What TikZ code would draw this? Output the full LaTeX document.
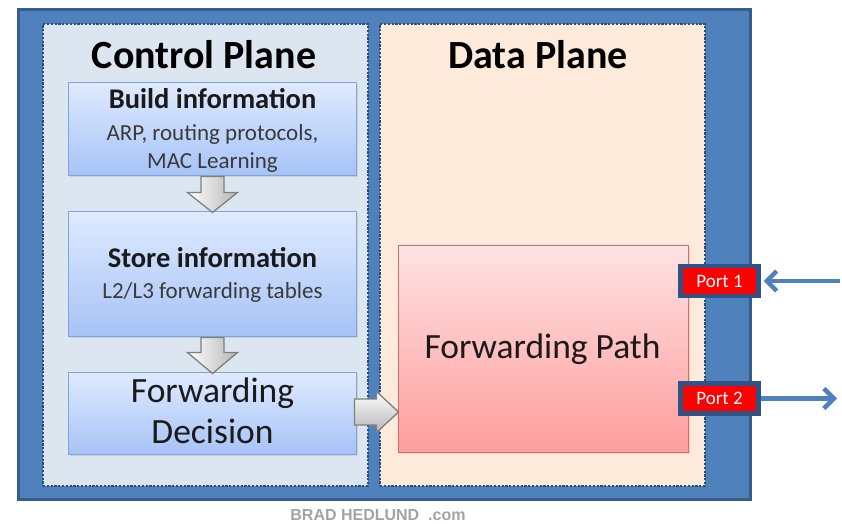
\documentclass[tikz,border=0pt]{standalone}
\usepackage{fontspec}
\setmainfont{Carlito}
\newfontfamily\footfont{Liberation Sans}
\usetikzlibrary{calc,arrows.meta,shadows}
\definecolor{outerblue}{HTML}{4F81BD}
\definecolor{outeredge}{HTML}{385D8A}
\definecolor{dotblue}{HTML}{2B4C74}
\definecolor{ctrlfill}{HTML}{DCE6F1}
\definecolor{datafill}{HTML}{FDEADA}
\definecolor{boxtop}{HTML}{DFEAFF}
\definecolor{boxbot}{HTML}{A6C3F6}
\definecolor{boxedge}{HTML}{7FA4DA}
\definecolor{pathtop}{HTML}{FFE3E3}
\definecolor{pathbot}{HTML}{FF9C9C}
\definecolor{pathedge}{HTML}{D46A6A}
\definecolor{arrowgray}{HTML}{B5B5B5}
\definecolor{arrowedge}{HTML}{7F7F7F}
\definecolor{portedge}{HTML}{2E5486}
\definecolor{footgray}{HTML}{A3A3A3}
\definecolor{textdark}{HTML}{1A1A1A}
\definecolor{textgray}{HTML}{3A3A3A}
\begin{document}
\begin{tikzpicture}[x=1pt,y=-1pt,
  outerbox/.style={draw=outeredge, line width=3pt, fill=outerblue, inner sep=0, outer sep=0,
    minimum width=732pt, minimum height=490pt,
    drop shadow={opacity=0.25, shadow xshift=1.5pt, shadow yshift=-1.5pt}},
  plane/.style={draw=dotblue, line width=2.8pt, dash pattern=on 2.2pt off 1.6pt, inner sep=0, outer sep=0,
    minimum width=325pt, minimum height=462pt},
  infobox/.style={draw=boxedge, line width=1.6pt, top color=boxtop, bottom color=boxbot,
    inner sep=0, outer sep=0, minimum width=288pt,
    drop shadow={opacity=0.2, shadow xshift=1pt, shadow yshift=-1.5pt}},
  pathbox/.style={draw=pathedge, line width=1.6pt, top color=pathtop, bottom color=pathbot,
    inner sep=0, outer sep=0, minimum width=290pt, minimum height=207pt,
    drop shadow={opacity=0.2, shadow xshift=1pt, shadow yshift=-1.5pt}},
  portbox/.style={draw=portedge, fill=red, line width=4.5pt, text=white, inner sep=0, outer sep=0,
    font=\fontsize{19}{21}\selectfont, minimum width=78pt, minimum height=30pt},
  blockV/.style={draw=arrowedge, line width=1.3pt, left color=white, right color=arrowgray, line join=miter},
  blockH/.style={draw=arrowedge, line width=1.3pt, top color=white, bottom color=arrowgray, line join=miter},
  bluearrow/.style={draw=outerblue, line width=4.5pt, -{Straight Barb[length=10pt,width=20pt]}},
  titletext/.style={font=\fontsize{40}{44}\selectfont\bfseries, text=black, inner sep=0},
  headtext/.style={font=\fontsize{28.5}{32}\selectfont\bfseries, text=textdark, inner sep=0},
  subtext/.style={font=\fontsize{23}{27}\selectfont, text=textgray, inner sep=0},
  bigtext/.style={font=\fontsize{35.5}{40}\selectfont, text=textdark, inner sep=0}
]
\useasboundingbox (0,0) rectangle (842,523);

% frame and planes
\node[outerbox] (outer) at (384,254) {};
\node[plane, fill=ctrlfill] (ctrl) at (205.5,255) {};
\node[plane, fill=datafill] (data) at (542.5,255) {};

\node[titletext, anchor=base] (ctitle) at (204,68) {Control Plane};
\node[titletext, anchor=base] (dtitle) at (538,68) {Data Plane};

% control plane boxes
\node[infobox, minimum height=93pt] (build) at (212.5,129) {};
\node[infobox, minimum height=125pt] (store) at (212.5,274) {};
\node[infobox, minimum height=82pt] (decision) at (212.5,413.5) {};

\node[headtext, anchor=base] (buildT) at ($(build.north)+(0,26)$) {Build information};
\node[subtext, anchor=base] (buildS1) at ($(build.north)+(0,58)$) {ARP, routing protocols,};
\node[subtext, anchor=base] (buildS2) at ($(build.north)+(0,86)$) {MAC Learning};

\node[headtext, anchor=base] (storeT) at ($(store.north)+(0,56)$) {Store information};
\node[subtext, anchor=base] (storeS) at ($(store.north)+(0,87)$) {L2/L3 forwarding tables};

\node[bigtext, anchor=base] (decT1) at ($(decision.north)+(0,30)$) {Forwarding};
\node[bigtext, anchor=base] (decT2) at ($(decision.north)+(0,71)$) {Decision};

% data plane
\node[pathbox] (path) at (543.5,349) {};
\node[bigtext, anchor=base] (pathT) at ($(path.center)+(-1,9)$) {Forwarding Path};

\node[portbox] (port1) at (719.5,281) {Port 1};
\node[portbox] (port2) at (719.5,398.5) {Port 2};

% block arrows
\path[blockV] ($(build.south)+(-11.5,1)$) -- ($(build.south)+(11.5,1)$)
  -- ($(build.south)+(11.5,17)$) -- ($(build.south)+(25,17)$)
  -- ($(store.north)+(0,1)$)
  -- ($(build.south)+(-25,17)$) -- ($(build.south)+(-11.5,17)$) -- cycle;
\path[blockV] ($(store.south)+(-11.5,1)$) -- ($(store.south)+(11.5,1)$)
  -- ($(store.south)+(11.5,16)$) -- ($(store.south)+(25,16)$)
  -- ($(decision.north)+(0,1)$)
  -- ($(store.south)+(-25,16)$) -- ($(store.south)+(-11.5,16)$) -- cycle;
\coordinate (rtip) at ($(path.west |- decision.east)+(0,-1.5)$);
\path[blockH] ($(decision.east)+(-2,-14.5)$) -- ($(decision.east)+(20,-14.5)$)
  -- ($(decision.east)+(20,-22)$) -- (rtip)
  -- ($(decision.east)+(20,19)$) -- ($(decision.east)+(20,11.5)$)
  -- ($(decision.east)+(-2,11.5)$) -- cycle;

% port arrows
\coordinate (p1in) at (840,281);
\coordinate (p2out) at (837,398.5);
\draw[bluearrow, shorten >=5pt] (p1in) -- (port1.east);
\draw[bluearrow, shorten <=2.5pt] (port2.east) -- (p2out);

% footer
\node[anchor=base, inner sep=0, text=footgray, font=\footfont\bfseries\fontsize{16}{18}\selectfont] (foot) at (378,520) {BRAD HEDLUND\ \ .com};
\end{tikzpicture}
\end{document}
